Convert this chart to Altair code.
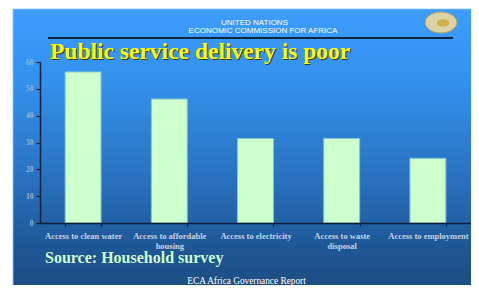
import altair as alt
import pandas as pd

categories = [
    "Access to clean water",
    "Access to affordable\nhousing",
    "Access to electricity",
    "Access to waste\ndisposal",
    "Access to employment",
]
values = [56.3, 46.2, 31.5, 31.5, 24.1]

header_1 = "UNITED NATIONS"
header_2 = "ECONOMIC COMMISSION FOR AFRICA"
title_text = "Public service delivery is poor"
source_text = "Source: Household survey"
footer_text = "ECA Africa Governance Report"

W, H = 431, 161
data = pd.DataFrame({"category": categories, "value": values})
one = pd.DataFrame({"a": [0]})

bg = alt.Chart(one).mark_rect(
    fill=alt.LinearGradient(
        gradient="linear", x1=0, y1=0, x2=0, y2=1,
        stops=[
            alt.GradientStop(color="#3d9dfd", offset=0),
            alt.GradientStop(color="#3391ec", offset=0.25),
            alt.GradientStop(color="#2a74c4", offset=0.55),
            alt.GradientStop(color="#1f5898", offset=0.8),
            alt.GradientStop(color="#1c4878", offset=1),
        ],
    ),
    stroke="#8fc4f5", strokeWidth=0.8,
).encode(x=alt.value(-27), x2=alt.value(W + 20), y=alt.value(-53), y2=alt.value(H + 80))

axis_common = dict(
    labelFont="Liberation Serif", labelFontWeight="bold",
    domainColor="#0c1f38", domainWidth=1.5,
    tickColor="#0c1f38", tickWidth=1.2, zindex=1,
)

bars = alt.Chart(data).mark_bar(
    fill="#ccffcc", stroke="#88c4d0", strokeWidth=1
).encode(
    x=alt.X("category:N", sort=None, title=None,
            scale=alt.Scale(paddingInner=0.584, paddingOuter=0.292),
            axis=alt.Axis(labelAngle=0, labelExpr="split(datum.label, '\\n')",
                          labelFontSize=8.5, labelColor="#c4d4e6", labelPadding=5,
                          labelLineHeight=10, labelLimit=200, tickSize=3,
                          tickBand="extent", **axis_common)),
    y=alt.Y("value:Q", title=None,
            scale=alt.Scale(domain=[0, 60]),
            axis=alt.Axis(values=[0, 10, 20, 30, 40, 50, 60], grid=False,
                          labelFontSize=7.5, labelColor="#92b2d8", labelPadding=3,
                          tickSize=4, **axis_common)),
)

def txt(text, x, y, size, color, font="Liberation Serif", weight="normal", align="left"):
    return alt.Chart(one).mark_text(
        text=text, font=font, fontSize=size, fontWeight=weight, color=color,
        align=align, baseline="alphabetic"
    ).encode(x=alt.value(x), y=alt.value(y))

h1 = txt(header_1, 214.5, -37.5, 8, "#ffffff", font="Liberation Sans", align="center")
h2 = txt(header_2, 223, -28.7, 8, "#ffffff", font="Liberation Sans", align="center")
line = alt.Chart(one).mark_rule(color="#000000", strokeWidth=1.5).encode(
    x=alt.value(8), x2=alt.value(413), y=alt.value(-24))
emblem = alt.Chart(one).mark_point(
    shape="M-1,0 A1,0.66,0,1,1,1,0 A1,0.66,0,1,1,-1,0 Z",
    size=1000, filled=True, fill="#dcd2a6", stroke="#b5a464", strokeWidth=1, opacity=1
).encode(x=alt.value(401), y=alt.value(-39.5))
emblem_core = alt.Chart(one).mark_point(
    shape="M-1,0 A1,0.6,0,1,1,1,0 A1,0.6,0,1,1,-1,0 Z",
    size=150, filled=True, fill="#c9a832", opacity=0.8
).encode(x=alt.value(403), y=alt.value(-39))
title_shadow = txt(title_text, 11.2, -1.8, 23.5, "#3b3a1c", weight="bold")
title = txt(title_text, 10, -3, 23.5, "#ffff00", weight="bold")
source = txt(source_text, 5, 201, 16, "#ccffcc", weight="bold")
footer = txt(footer_text, 206.5, 222, 9.3, "#ffffff", align="center")

chart = alt.layer(
    bg, bars, h1, h2, line, emblem, emblem_core, title_shadow, title, source, footer
).properties(
    width=W, height=H,
    padding={"left": 32, "top": 54, "right": 0, "bottom": 62},
    autosize=alt.AutoSizeParams(type="none"),
    background="#ffffff",
).configure_view(stroke=None)

chart.save("out.html", embed_options={"renderer": "svg", "actions": False})
